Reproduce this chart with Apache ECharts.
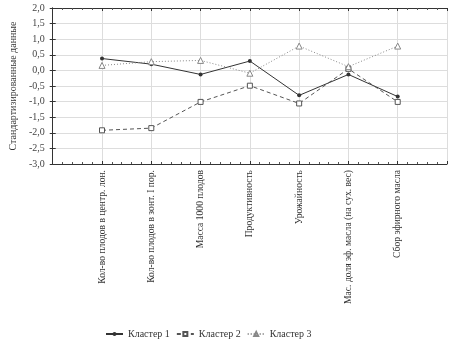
<!DOCTYPE html>
<html>
<head>
<meta charset="utf-8">
<script src="https://cdn.jsdelivr.net/npm/echarts@6/dist/echarts.min.js"></script>
<style>
  html, body { margin: 0; padding: 0; background: #fff; }
  #chart { width: 459px; height: 347px; }
</style>
</head>
<body>
<div id="chart"></div>
<script>
  // категории (показатели)
  const categories = [
    'Кол-во плодов в центр. лон.',
    'Кол-во плодов в зонт. I пор.',
    'Масса 1000 плодов',
    'Продуктивность',
    'Урожайность',
    'Мас. доля эф. масла (на сух. вес)',
    'Сбор эфирного масла'
  ]
  const cluster1 = [0.38, 0.20, -0.13, 0.30, -0.80, -0.13, -0.84]
  const cluster2 = [-1.92, -1.85, -1.01, -0.49, -1.06, 0.05, -1.01]
  const cluster3 = [0.16, 0.28, 0.32, -0.09, 0.78, 0.12, 0.78]
  const seriesNames = ['Кластер 1', 'Кластер 2', 'Кластер 3']

  const font = 'Liberation Serif'
  const toPoints = arr => arr.map((v, i) => [i + 1, v])

  let myChart = echarts.init(document.getElementById('chart'))
  let baseX = {
    type: 'value',
    min: 0,
    max: 8,
    interval: 1,
    axisLine: { show: true, onZero: false, lineStyle: { color: '#333', width: 1 } },
    axisTick: { show: true, inside: true, length: 3, lineStyle: { color: '#333' } },
    minorTick: { show: true, splitNumber: 5, length: 2, lineStyle: { color: '#555' } },
    splitLine: { show: true, lineStyle: { color: '#ddd', width: 1 } }
  }
  let baseY = {
    type: 'value',
    min: -3,
    max: 2,
    interval: 0.5,
    axisLine: { show: true, lineStyle: { color: '#333', width: 1 } },
    axisTick: { show: true, inside: true, length: 3, lineStyle: { color: '#333' } },
    splitLine: { show: true, lineStyle: { color: '#ddd', width: 1 } }
  }
  myChart.setOption({
    animation: false,
    grid: { left: 49, right: 12, top: 8, bottom: 183 },
    xAxis: [
      Object.assign({}, baseX, {
        position: 'bottom',
        axisLabel: {
          rotate: 90,
          fontFamily: font,
          fontSize: 9.6,
          color: '#333',
          margin: 6,
          formatter: function(v) {
            return categories[v - 1] || ''
          }
        }
      }),
      Object.assign({}, baseX, {
        position: 'top',
        axisLabel: { show: false },
        splitLine: { show: false }
      })
    ],
    yAxis: [
      Object.assign({}, baseY, {
        position: 'left',
        name: 'Стандартизированные данные',
        nameLocation: 'middle',
        nameRotate: 90,
        nameGap: 34,
        nameTextStyle: { fontFamily: font, fontSize: 10, color: '#333' },
        axisLabel: {
          fontFamily: font,
          fontSize: 10,
          color: '#444',
          margin: 8,
          formatter: function(v) {
            return v.toFixed(1).replace('.', ',')
          }
        }
      }),
      Object.assign({}, baseY, {
        position: 'right',
        axisLabel: { show: false },
        splitLine: { show: false }
      })
    ],
    legend: {
      bottom: 3,
      left: 100,
      itemWidth: 17,
      itemHeight: 5,
      itemGap: 6,
      textStyle: { fontFamily: font, fontSize: 10, color: '#333' },
      data: seriesNames
    },
    series: [
      {
        name: seriesNames[0],
        type: 'line',
        data: toPoints(cluster1),
        symbol: 'circle',
        symbolSize: 4,
        itemStyle: { color: '#333' },
        lineStyle: { color: '#333', width: 1, type: 'solid' }
      },
      {
        name: seriesNames[1],
        type: 'line',
        data: toPoints(cluster2),
        symbol: 'rect',
        symbolSize: 5,
        itemStyle: { color: '#fff', borderColor: '#555', borderWidth: 1 },
        lineStyle: { color: '#555', width: 1, type: [4, 3] }
      },
      {
        name: seriesNames[2],
        type: 'line',
        data: toPoints(cluster3),
        symbol: 'triangle',
        symbolSize: 6,
        itemStyle: { color: '#fff', borderColor: '#888', borderWidth: 1 },
        lineStyle: { color: '#888', width: 1, type: [1, 2] }
      }
    ]
  })
</script>
</body>
</html>
